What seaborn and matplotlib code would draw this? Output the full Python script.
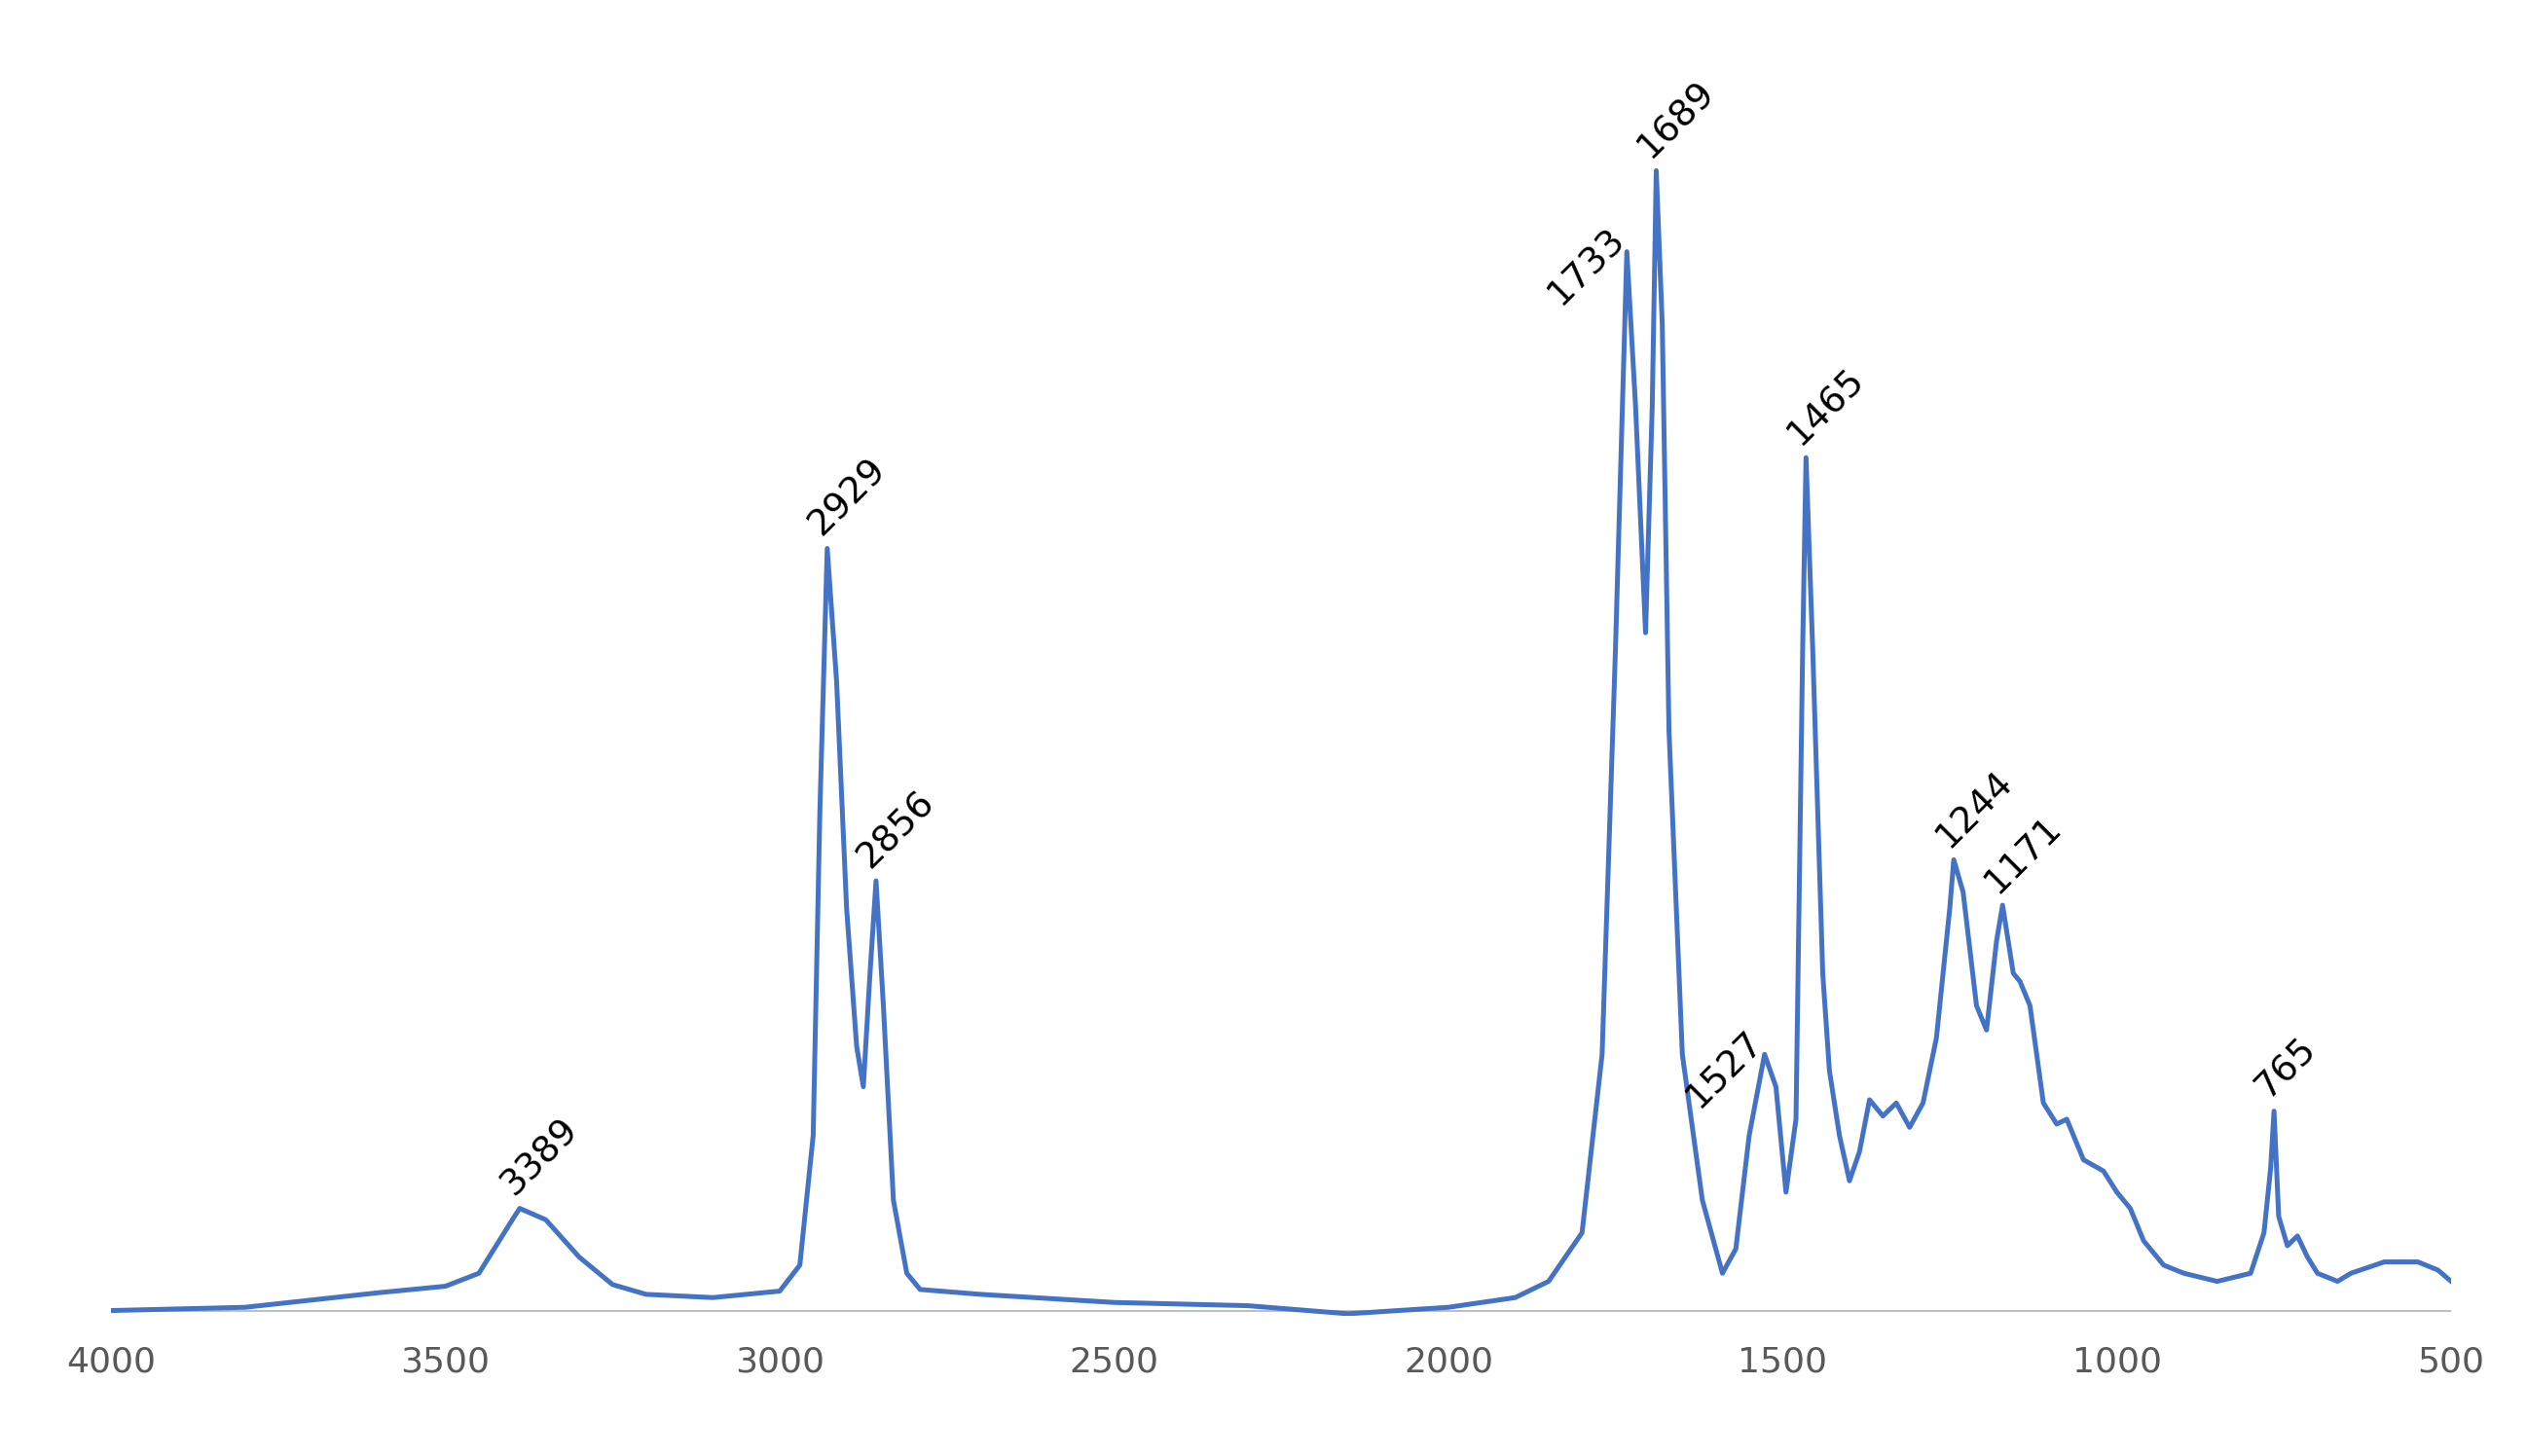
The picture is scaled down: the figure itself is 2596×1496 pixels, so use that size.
import matplotlib
matplotlib.use("Agg")
import matplotlib.pyplot as plt
import seaborn as sns
import pandas as pd

wavenumber = [4000,3800,3600,3500,3450,3400,3389,3350,3300,3250,3200,3100,3000,2970,2950,2940,2929,2915,2900,2885,2875,2865,2856,2845,2830,2810,2790,2700,2500,2300,2150,2000,1900,1850,1800,1770,1750,1733,1720,1705,1695,1689,1680,1670,1650,1620,1590,1570,1550,1527,1510,1495,1480,1470,1465,1455,1440,1430,1415,1400,1385,1370,1350,1330,1310,1290,1270,1250,1244,1230,1210,1195,1180,1171,1155,1145,1130,1110,1090,1075,1050,1020,1000,980,960,930,900,850,800,780,770,765,758,745,730,715,700,670,650,600,550,520,500]
ypix = [808,806,797,793,785,752,745,752,775,792,798,800,796,780,700,500,338,420,560,645,670,600,543,620,740,785,795,798,803,805,810,806,800,790,760,650,400,155,250,390,250,105,200,450,650,740,785,770,700,650,670,735,690,400,282,400,600,660,700,728,710,678,688,680,695,680,640,560,530,550,620,635,580,558,600,605,620,680,693,690,715,722,735,745,765,780,785,790,785,760,720,685,750,768,762,775,785,790,785,778,778,783,790]
absorbance = [(808 - y) / 700 for y in ypix]

peak_labels = ["3389","2929","2856","1733","1689","1465","1527","1244","1171","765"]
peak_x = [3389,2929,2856,1733,1689,1465,1527,1244,1171,765]
peak_align = ["left","left","left","right","left","left","right","left","left","left"]

df = pd.DataFrame({"wn": wavenumber, "a": absorbance})
fig = plt.figure(figsize=(25.96, 14.96), dpi=100)
ax = fig.add_axes([0.044, 0.096, 0.926, 0.87])
sns.lineplot(data=df, x="wn", y="a", ax=ax, color="#4472C4", linewidth=3.6, sort=False)
ax.axhline(0, color="#BFBFBF", linewidth=1.5, zorder=0)
ax.set_xlim(4000, 500)
ax.set_ylim(-0.005, 1.111)
ax.set_xticks(range(4000, 499, -500))
ax.set_yticks([])
ax.tick_params(axis="x", length=0, labelsize=26, labelcolor="#595959", pad=22)
ax.set_xlabel(""); ax.set_ylabel("")
for s in ax.spines.values():
    s.set_visible(False)
lookup = dict(zip(wavenumber, absorbance))
for lab, x, al in zip(peak_labels, peak_x, peak_align):
    dx = -8 if al == "right" else 0
    ax.text(x + dx, lookup[x] + 0.005, lab, rotation=45, rotation_mode="anchor",
            ha=al, va="bottom", fontsize=27, color="black")
fig.savefig("out.png", dpi=100)
